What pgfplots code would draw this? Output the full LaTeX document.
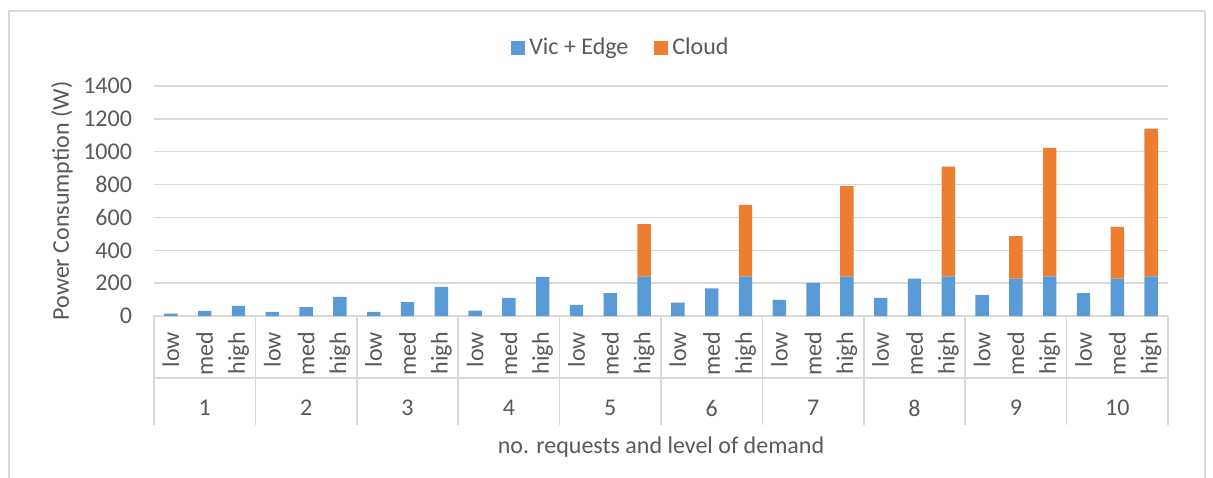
\documentclass[border=0pt]{standalone}
\usepackage{pgfplots}
\pgfplotsset{compat=1.18}
\usepackage{pgfplotstable}
\usepackage{fontspec}
\setmainfont{Carlito}
\definecolor{txt}{HTML}{595959}
\definecolor{gridc}{HTML}{D9D9D9}
\definecolor{cblue}{HTML}{5B9BD5}
\definecolor{corange}{HTML}{ED7D31}

\pgfplotstableread{
x blue cloud
0 14 0
1 31 0
2 62 0
3 25 0
4 54 0
5 117 0
6 25 0
7 84 0
8 178 0
9 33 0
10 111 0
11 238 0
12 68 0
13 140 0
14 240 320
15 82 0
16 168 0
17 240 436
18 98 0
19 201 0
20 240 550
21 111 0
22 228 0
23 242 668
24 129 0
25 228 258
26 242 781
27 140 0
28 228 315
29 242 899
}\datatable

\begin{document}
\begin{tikzpicture}[font=\fontsize{12}{14.4}\selectfont]
\useasboundingbox (0,0) rectangle (606.5pt,-238.5pt);
\draw[gridc, line width=0.6pt] (4.5pt,-245pt) -- (4.5pt,-5.5pt) -- (602.5pt,-5.5pt) -- (602.5pt,-245pt);
\begin{axis}[
  at={(77pt,-158pt)}, anchor=south west,
  scale only axis, width=507pt, height=115pt,
  xmin=-0.5, xmax=29.5, ymin=0, ymax=1400,
  ybar stacked, bar width=6.7pt,
  clip=false,
  axis line style={draw=none},
  xtick pos=bottom, ytick pos=left,
  major tick length=0pt,
  ytick={0,200,...,1400},
  ymajorgrids, grid style={gridc, line width=0.75pt},
  /pgf/number format/assume math mode=true,
  /pgf/number format/1000 sep={},
  yticklabel style={text=txt, anchor=east, xshift=-7.5pt},
  xtick={0,...,29},
  xticklabels={low,med,high,low,med,high,low,med,high,low,med,high,low,med,high,low,med,high,low,med,high,low,med,high,low,med,high,low,med,high},
  xticklabel style={text=txt, rotate=90, anchor=east, xshift=-4.5pt},
  extra x ticks={-0.5,2.5,5.5,8.5,11.5,14.5,17.5,20.5,23.5,26.5,29.5},
  extra x tick labels={},
  extra x tick style={major tick length=54.5pt, tick align=outside, tick style={gridc, line width=0.75pt}},
  xlabel={no. requests and level of demand},
  xlabel style={text=txt, at={(axis description cs:0.5,-0.57)}, anchor=center},
  ylabel={Power Consumption (W)},
  ylabel style={text=txt, at={(axis description cs:-0.0907,0.5)}, anchor=center},
  legend columns=2,
  legend style={at={(axis description cs:0.4615,1.165)}, anchor=center, draw=none, fill=none, text=txt,
    /tikz/every even column/.append style={column sep=11pt}},
  legend image code/.code={\fill[#1] (0pt,-3.5pt) rectangle (7pt,3.5pt);},
]
\addplot[fill=cblue, draw=none] table[x=x, y=blue] {\datatable};
\addlegendentry{Vic + Edge}
\addplot[fill=corange, draw=none] table[x=x, y=cloud] {\datatable};
\addlegendentry{Cloud}
\draw[gridc, line width=0.75pt] ([yshift=-31pt]axis cs:-0.5,0) -- ([yshift=-31pt]axis cs:29.5,0);
\node[text=txt] at ([yshift=-46pt]axis cs:1,0) {1};
\node[text=txt] at ([yshift=-46pt]axis cs:4,0) {2};
\node[text=txt] at ([yshift=-46pt]axis cs:7,0) {3};
\node[text=txt] at ([yshift=-46pt]axis cs:10,0) {4};
\node[text=txt] at ([yshift=-46pt]axis cs:13,0) {5};
\node[text=txt] at ([yshift=-46pt]axis cs:16,0) {6};
\node[text=txt] at ([yshift=-46pt]axis cs:19,0) {7};
\node[text=txt] at ([yshift=-46pt]axis cs:22,0) {8};
\node[text=txt] at ([yshift=-46pt]axis cs:25,0) {9};
\node[text=txt] at ([yshift=-46pt]axis cs:28,0) {10};
\end{axis}
\end{tikzpicture}
\end{document}
